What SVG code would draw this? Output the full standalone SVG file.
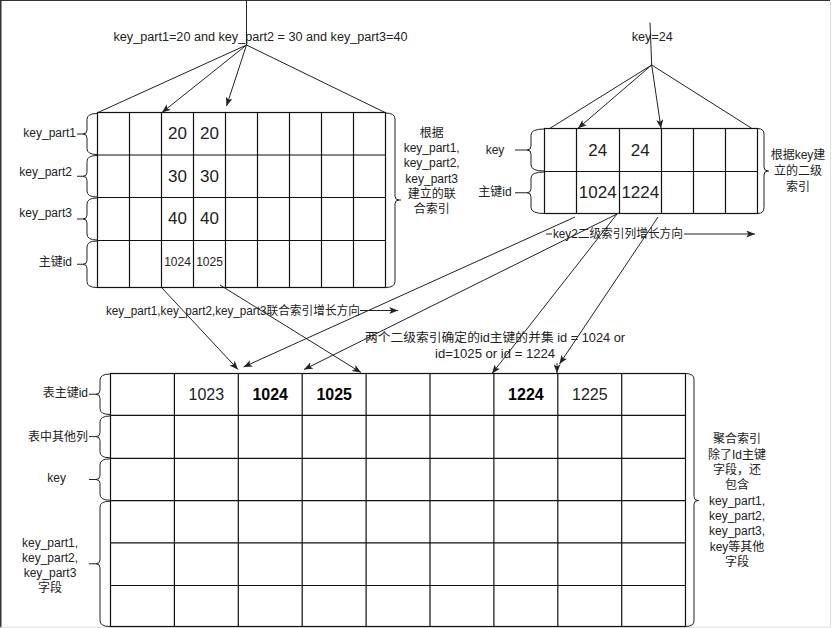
<svg xmlns="http://www.w3.org/2000/svg" width="832" height="628" viewBox="0 0 832 628">
<defs>
<style>
.t{font-family:"Liberation Sans",Arial,"Noto Sans CJK SC",sans-serif;font-size:12px;fill:#222;dominant-baseline:central}
.m{text-anchor:middle}
.e{text-anchor:end}
.v17{font-size:17px}
.v16{font-size:16px}
.b{font-weight:bold;fill:#000}
.grid{fill:none;stroke:#111;stroke-width:1.2}
.br{fill:none;stroke:#222;stroke-width:1}
.c{fill:none;stroke:#222;stroke-width:1}
.a{marker-end:url(#arr)}
</style>
<marker id="arr" viewBox="0 0 10 8" refX="10" refY="4" markerWidth="9" markerHeight="7" orient="auto" markerUnits="userSpaceOnUse">
<path d="M0,0 L10,4 L0,8 L2.5,4 z" fill="#222"/>
</marker>
</defs>
<rect x="0" y="0" width="832" height="628" fill="#fff"/>
<g id="frame">
<path d="M0.75 0 V628" stroke="#333" stroke-width="1.5" fill="none"/>
<path d="M0 0.5 H830" stroke="#333" stroke-width="1" fill="none"/>
<path d="M830.5 1 V627.5 M0 627.2 H830" stroke="#ddd" stroke-width="1" fill="none"/>
</g>

<g id="texts">
<text class="t m" x="260.5" y="37.3" textLength="294" lengthAdjust="spacingAndGlyphs">key_part1=20 and key_part2 = 30 and key_part3=40</text>
<text class="t m" x="652.3" y="37.3" textLength="41" lengthAdjust="spacingAndGlyphs">key=24</text>
<text class="t" x="106" y="310.5" textLength="254" lengthAdjust="spacingAndGlyphs">key_part1,key_part2,key_part3联合索引增长方向</text>
<text class="t" x="553" y="234" textLength="130" lengthAdjust="spacingAndGlyphs">key2二级索引列增长方向</text>
<text class="t m" x="495" y="338.3" textLength="260" lengthAdjust="spacingAndGlyphs">两个二级索引确定的id主键的并集 id = 1024 or</text>
<text class="t m" x="495" y="354" textLength="120" lengthAdjust="spacingAndGlyphs">id=1025 or  id = 1224</text>
</g>

<g id="composite-index">
<rect class="grid" x="97.5" y="112.5" width="288" height="175"/>
<path class="grid" d="M129.5 112.5V287.5M161.5 112.5V287.5M193.5 112.5V287.5M225.5 112.5V287.5M257.5 112.5V287.5M289.5 112.5V287.5M321.5 112.5V287.5M353.5 112.5V287.5M97.5 155H385.5M97.5 197.5H385.5M97.5 240.5H385.5"/>
<text class="t m v17" x="177.5" y="133">20</text>
<text class="t m v17" x="209.5" y="133">20</text>
<text class="t m v17" x="177.5" y="176.5">30</text>
<text class="t m v17" x="209.5" y="176.5">30</text>
<text class="t m v17" x="177.5" y="218.5">40</text>
<text class="t m v17" x="209.5" y="218.5">40</text>
<text class="t m" x="177.5" y="261.5">1024</text>
<text class="t m" x="209.5" y="261.5">1025</text>
<path class="br" d="M97 113.5 Q87 113.5 87 119.5 L87 130 Q87 134 83 134 L77 134 M83 134 Q87 134 87 138 L87 148.5 Q87 154.5 97 154.5"/>
<path class="br" d="M97 155.5 Q87 155.5 87 161.5 L87 172.25 Q87 176.25 83 176.25 L77 176.25 M83 176.25 Q87 176.25 87 180.25 L87 191 Q87 197 97 197"/>
<path class="br" d="M97 198 Q87 198 87 204 L87 215 Q87 219 83 219 L77 219 M83 219 Q87 219 87 223 L87 234 Q87 240 97 240"/>
<path class="br" d="M97 241 Q87 241 87 247 L87 260.25 Q87 264.25 83 264.25 L77 264.25 M83 264.25 Q87 264.25 87 268.25 L87 281.5 Q87 287.5 97 287.5"/>
<text class="t e" x="76" y="133.3">key_part1</text>
<text class="t e" x="72" y="171.7">key_part2</text>
<text class="t e" x="72" y="213.3">key_part3</text>
<text class="t e" x="72" y="261.7">主键id</text>
<path class="br" d="M385.5 113 Q395 113 395 119 L395 196 Q395 200 399 200 L401 200 M399 200 Q395 200 395 204 L395 281.5 Q395 287.5 385.5 287.5"/>
<text class="t m" x="431.7" y="132.7">根据</text>
<text class="t m" x="431.7" y="148">key_part1,</text>
<text class="t m" x="431.7" y="163.3">key_part2,</text>
<text class="t m" x="431.7" y="178.5">key_part3</text>
<text class="t m" x="431.7" y="193.7">建立的联</text>
<text class="t m" x="431.7" y="208.9">合索引</text>
</g>

<g id="key-index">
<rect class="grid" x="544.5" y="128.5" width="213" height="85"/>
<path class="grid" d="M576.5 128.5V213.5M619.5 128.5V213.5M661.5 128.5V213.5M693.5 128.5V213.5M725.5 128.5V213.5M544.5 171.5H757.5"/>
<text class="t m v17" x="597.7" y="150">24</text>
<text class="t m v17" x="640.3" y="150">24</text>
<text class="t m v17" x="597.7" y="192">1024</text>
<text class="t m v17" x="640.3" y="192">1224</text>
<path class="br" d="M544 129 Q531 129 531 135 L531 146 Q531 150 527 150 L515 150 M527 150 Q531 150 531 154 L531 165 Q531 171 544 171"/>
<path class="br" d="M544 172 Q531 172 531 178 L531 188.75 Q531 192.75 527 192.75 L515 192.75 M527 192.75 Q531 192.75 531 196.75 L531 207.5 Q531 213.5 544 213.5"/>
<text class="t m" x="495" y="150.3">key</text>
<text class="t m" x="495" y="192">主键id</text>
<path class="br" d="M757.7 128.5 Q764 128.5 764 134.5 L764 167 Q764 171 768 171 L769 171 M768 171 Q764 171 764 175 L764 207.5 Q764 213.5 757.7 213.5"/>
<text class="t m" x="798" y="155">根据key建</text>
<text class="t m" x="798" y="171">立的二级</text>
<text class="t m" x="798" y="187">索引</text>
</g>

<g id="clustered-index">
<rect class="grid" x="110.5" y="373.5" width="575" height="253"/>
<path class="grid" d="M174.4 373.5V626.5M238.3 373.5V626.5M302.2 373.5V626.5M366.1 373.5V626.5M430 373.5V626.5M493.9 373.5V626.5M557.8 373.5V626.5M621.7 373.5V626.5M110.5 415.3H685.5M110.5 458.3H685.5M110.5 500.7H685.5M110.5 542.8H685.5M110.5 585.5H685.5"/>
<text class="t m v16" x="206.3" y="394.3">1023</text>
<text class="t m v16 b" x="270.2" y="394.3">1024</text>
<text class="t m v16 b" x="334.2" y="394.3">1025</text>
<text class="t m v16 b" x="525.9" y="394.3">1224</text>
<text class="t m v16" x="589.8" y="394.3">1225</text>
<path class="br" d="M110 374 Q100 374 100 380 L100 390.25 Q100 394.25 96 394.25 L89 394.25 M96 394.25 Q100 394.25 100 398.25 L100 408.5 Q100 414.5 110 414.5"/>
<path class="br" d="M110 416 Q100 416 100 422 L100 432.6 Q100 436.6 96 436.6 L89 436.6 M96 436.6 Q100 436.6 100 440.6 L100 451.8 Q100 457.8 110 457.8"/>
<path class="br" d="M110 458.8 Q100 458.8 100 464.8 L100 475.5 Q100 479.5 96 479.5 L89 479.5 M96 479.5 Q100 479.5 100 483.5 L100 494.2 Q100 500.2 110 500.2"/>
<path class="br" d="M110 501.2 Q100 501.2 100 507.2 L100 559.8 Q100 563.8 96 563.8 L89 563.8 M96 563.8 Q100 563.8 100 567.8 L100 620.5 Q100 626.5 110 626.5"/>
<text class="t e" x="88" y="393.3">表主键id</text>
<text class="t e" x="88" y="436.7">表中其他列</text>
<text class="t m" x="56.7" y="478.3">key</text>
<text class="t m" x="50" y="542.6">key_part1,</text>
<text class="t m" x="50" y="557.6">key_part2,</text>
<text class="t m" x="50" y="572.6">key_part3</text>
<text class="t m" x="50" y="588">字段</text>
<path class="br" d="M685.6 373.5 Q694 373.5 694 379.5 L694 496.5 Q694 500.5 698 500.5 L699 500.5 M698 500.5 Q694 500.5 694 504.5 L694 620.5 Q694 626.5 685.6 626.5"/>
<text class="t m" x="737" y="439.4">聚合索引</text>
<text class="t m" x="737" y="454.7">除了Id主键</text>
<text class="t m" x="737" y="470">字段，还</text>
<text class="t m" x="737" y="485.3">包含</text>
<text class="t m" x="737" y="500.6">key_part1,</text>
<text class="t m" x="737" y="515.9">key_part2,</text>
<text class="t m" x="737" y="531.2">key_part3,</text>
<text class="t m" x="737" y="546.5">key等其他</text>
<text class="t m" x="737" y="561.8">字段</text>
</g>

<g id="connectors">
<path class="c" d="M246.5 0 L246.5 45 M246.5 45 L98 112.5 M246.5 45 L385 112.5"/>
<path class="c a" d="M246.5 45 L162 112.5"/>
<path class="c a" d="M246.5 45 L226.5 106"/>
<path class="c" d="M650 22.7 L651.7 65 M651.7 65 L550 128.3 M651.7 65 L751.7 128.3"/>
<path class="c a" d="M651.7 65 L578 128.3"/>
<path class="c a" d="M651.7 65 L661 128.3"/>
<path class="c a" d="M162 288 L238 369.5"/>
<path class="c a" d="M220 285 L361 372.5"/>
<path class="c a" d="M575 217 L243.5 367"/>
<path class="c a" d="M617 214 L304 369.5"/>
<path class="c a" d="M617 214 L492 373.5"/>
<path class="c a" d="M658 217 L559.5 364"/>
<path class="c a" d="M557 363 L557 373"/>
<path class="c a" d="M360 310.5 L398 310.5"/>
<path class="c" d="M546 234 L552 234"/>
<path class="c a" d="M684 234 L755 234"/>
</g>
</svg>
